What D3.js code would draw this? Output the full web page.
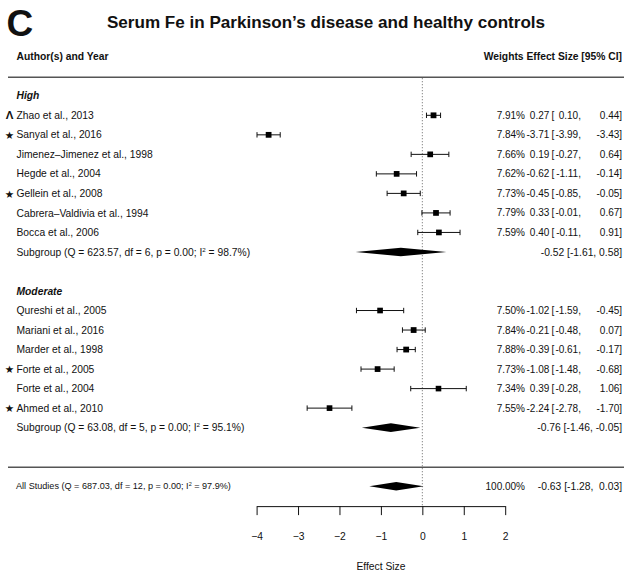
<!DOCTYPE html>
<html>
<head>
<meta charset="utf-8">
<script src="https://cdn.jsdelivr.net/npm/d3@7"></script>
<style>
  html, body { margin: 0; padding: 0; background: #fff; }
  svg { display: block; font-family: "Liberation Sans", Arial, Helvetica, sans-serif; }
  text { fill: #111; }
</style>
</head>
<body>
<svg id="chart" width="624" height="574"></svg>
<script>
// Study-level data: serum Fe, Parkinson's disease vs healthy controls
const studies = [
  "Zhao et al., 2013", "Sanyal et al., 2016", "Jimenez\u2013Jimenez et al., 1998",
  "Hegde et al., 2004", "Gellein et al., 2008", "Cabrera\u2013Valdivia et al., 1994",
  "Bocca et al., 2006",
  "Qureshi et al., 2005", "Mariani et al., 2016", "Marder et al., 1998",
  "Forte et al., 2005", "Forte et al., 2004", "Ahmed et al., 2010"
];
const groups   = ["High","High","High","High","High","High","High",
                  "Moderate","Moderate","Moderate","Moderate","Moderate","Moderate"];
const weights  = [7.91, 7.84, 7.66, 7.62, 7.73, 7.79, 7.59, 7.50, 7.84, 7.88, 7.73, 7.34, 7.55];
const effect   = [0.27, -3.71, 0.19, -0.62, -0.45, 0.33, 0.40, -1.02, -0.21, -0.39, -1.08, 0.39, -2.24];
const ciLower  = [0.10, -3.99, -0.27, -1.11, -0.85, -0.01, -0.11, -1.59, -0.48, -0.61, -1.48, -0.28, -2.78];
const ciUpper  = [0.44, -3.43, 0.64, -0.14, -0.05, 0.67, 0.91, -0.45, 0.07, -0.17, -0.68, 1.06, -1.70];
const flags    = ["\u039B", "\u2605", "", "", "\u2605", "", "", "", "", "", "\u2605", "", "\u2605"];

// Subgroup summaries
const subgroupNames = ["High", "Moderate"];
const subgroupQ     = ["623.57", "63.08"];
const subgroupDf    = [6, 5];
const subgroupP     = ["0.00", "0.00"];
const subgroupI2    = ["98.7", "95.1"];
const subgroupEst   = [-0.52, -0.76];
const subgroupLower = [-1.61, -1.46];
const subgroupUpper = [0.58, -0.05];

// Overall random-effects summary
const overallQ = "687.03", overallDf = 12, overallP = "0.00", overallI2 = "97.9";
const overallEst = -0.63, overallLower = -1.28, overallUpper = 0.03, overallWeight = "100.00%";

const axisTicks = [-4, -3, -2, -1, 0, 1, 2];

const svg = d3.select("#chart");
const W = 624;
const fs = 10.3;   // label font size
const fn = 10;     // numeric column font size
const f2 = v => v.toFixed(2);

// Row layout: header at -2, groups stacked with a blank row between, overall at the bottom
const rows = [];
let r = 0;
subgroupNames.forEach((g, gi) => {
  rows.push({type: "group", row: r++, label: g});
  studies.forEach((s, i) => {
    if (groups[i] === g) rows.push({type: "study", row: r++, i});
  });
  rows.push({type: "subgroup", row: r++, gi});
  r++; // blank row
});
const overallRow = r + 1;

const y = d3.scaleLinear().domain([0, 20]).range([95.8, 486.2]);
const x = d3.scaleLinear().domain([-4, 2]).range([256.6, 505.2]);

// Title and panel letter
svg.append("text").attr("x", 6.5).attr("y", 36).attr("font-size", 37)
  .attr("font-weight", "bold").text("C");
svg.append("text").attr("x", 326).attr("y", 28).attr("font-size", 17.1)
  .attr("font-weight", "bold").attr("text-anchor", "middle")
  .text("Serum Fe in Parkinson\u2019s disease and healthy controls");

// Column headers
svg.append("text").attr("x", 16.5).attr("y", y(-2)).attr("dy", "0.35em")
  .attr("font-size", fs).attr("font-weight", "bold").text("Author(s) and Year");
svg.append("text").attr("x", 622).attr("y", y(-2)).attr("dy", "0.35em")
  .attr("font-size", fs).attr("font-weight", "bold").attr("text-anchor", "end")
  .text("Weights Effect Size [95% CI]");

// Separator lines
[y(-0.95), y(19.03)].forEach(yy => {
  svg.append("line").attr("x1", 8).attr("x2", W).attr("y1", yy).attr("y2", yy)
    .attr("stroke", "#555").attr("stroke-width", 1.5);
});

// Reference line at zero
svg.append("line").attr("x1", x(0)).attr("x2", x(0))
  .attr("y1", y(-0.9)).attr("y2", y(21.0))
  .attr("stroke", "#666").attr("stroke-width", 1).attr("stroke-dasharray", "1,2");

const maxW = d3.max(weights);
const sq = d3.scaleSqrt().domain([0, maxW]).range([0, 5.8]);

// Estimate and interval, drawn as aligned columns
function ciText(yy, est, lo, hi) {
  const t = svg.append("g").attr("font-size", fn);
  const put = (xx, anchor, s) => t.append("text").attr("x", xx).attr("y", yy)
    .attr("dy", "0.35em").attr("text-anchor", anchor).text(s);
  put(549.3, "end", f2(est));
  put(551.6, "start", "[");
  put(578.2, "end", f2(lo));
  put(578.2, "start", ",");
  put(619.3, "end", f2(hi));
  put(619.3, "start", "]");
}

function statLabel(prefix, Q, df, p, I2, size) {
  const t = svg.append("text").attr("font-size", size);
  t.append("tspan").text(`${prefix} (Q = ${Q}, df = ${df}, p = ${p}; I`);
  t.append("tspan").attr("font-size", size * 0.6).attr("dy", -size * 0.38).text("2");
  t.append("tspan").attr("dy", size * 0.38).text(` = ${I2}%)`);
  return t;
}

function diamond(yy, est, lo, hi) {
  const h = 4.3;
  svg.append("path")
    .attr("d", `M${x(lo)},${yy} L${x(est)},${yy - h} L${x(hi)},${yy} L${x(est)},${yy + h} Z`)
    .attr("fill", "#000");
}

rows.forEach(d => {
  const yy = y(d.row);
  if (d.type === "group") {
    svg.append("text").attr("x", 16.5).attr("y", yy).attr("dy", "0.35em")
      .attr("font-size", fs).attr("font-weight", "bold").attr("font-style", "italic").text(d.label);
  } else if (d.type === "study") {
    const i = d.i;
    svg.append("text").attr("x", 16.5).attr("y", yy).attr("dy", "0.35em")
      .attr("font-size", fs).text(studies[i]);
    if (flags[i]) {
      const isStar = flags[i] === "\u2605";
      svg.append("text").attr("x", 9.5).attr("y", yy).attr("dy", isStar ? "0.4em" : "0.36em")
        .attr("text-anchor", "middle")
        .attr("font-family", isStar ? "DejaVu Sans, sans-serif" : "Liberation Sans, Arial, sans-serif")
        .attr("font-size", isStar ? 10.5 : 11.5).attr("font-weight", "bold").text(flags[i]);
    }
    // CI whisker with end caps
    const g = svg.append("g").attr("stroke", "#111").attr("stroke-width", 1);
    g.append("line").attr("x1", x(ciLower[i])).attr("x2", x(ciUpper[i])).attr("y1", yy).attr("y2", yy);
    [ciLower[i], ciUpper[i]].forEach(v => {
      g.append("line").attr("x1", x(v)).attr("x2", x(v)).attr("y1", yy - 2.7).attr("y2", yy + 2.7);
    });
    const s = sq(weights[i]);
    svg.append("rect").attr("x", x(effect[i]) - s / 2).attr("y", yy - s / 2)
      .attr("width", s).attr("height", s).attr("fill", "#000");
    svg.append("text").attr("x", 525).attr("y", yy).attr("dy", "0.35em")
      .attr("font-size", fn).attr("text-anchor", "end").text(weights[i].toFixed(2) + "%");
    ciText(yy, effect[i], ciLower[i], ciUpper[i]);
  } else if (d.type === "subgroup") {
    const gi = d.gi;
    statLabel("Subgroup", subgroupQ[gi], subgroupDf[gi], subgroupP[gi], subgroupI2[gi], fs)
      .attr("x", 16.5).attr("y", yy).attr("dy", "0.35em");
    diamond(yy, subgroupEst[gi], subgroupLower[gi], subgroupUpper[gi]);
    svg.append("text").attr("x", 622).attr("y", yy).attr("dy", "0.35em")
      .attr("font-size", fs).attr("text-anchor", "end")
      .text(`${f2(subgroupEst[gi])} [${f2(subgroupLower[gi])}, ${f2(subgroupUpper[gi])}]`);
  }
});

// Overall summary
{
  const yy = y(overallRow);
  statLabel("All Studies", overallQ, overallDf, overallP, overallI2, 9.1)
    .attr("x", 16).attr("y", yy).attr("dy", "0.35em");
  diamond(yy, overallEst, overallLower, overallUpper);
  svg.append("text").attr("x", 525).attr("y", yy).attr("dy", "0.35em")
    .attr("font-size", fn).attr("text-anchor", "end").text(overallWeight);
  svg.append("text").attr("x", 622).attr("y", yy).attr("dy", "0.35em")
    .attr("font-size", fs).attr("text-anchor", "end")
    .style("white-space", "pre")
    .text(`${f2(overallEst)} [${f2(overallLower)},  ${f2(overallUpper)}]`);
}

// Effect size axis
const axisY = y(21.02);
const axis = d3.axisBottom(x).tickValues(axisTicks).tickSize(9).tickSizeOuter(0).tickPadding(18)
  .tickFormat(d3.format("d"));
const ax = svg.append("g").attr("transform", `translate(0,${axisY})`).call(axis);
ax.select(".domain").attr("stroke", "#111").attr("stroke-width", 1);
ax.selectAll(".tick line").attr("stroke", "#111").attr("stroke-width", 1);
ax.selectAll(".tick text").attr("font-size", fs).attr("fill", "#111")
  .attr("font-family", "Liberation Sans, Arial, sans-serif");

svg.append("text").attr("x", x(-1)).attr("y", 570).attr("font-size", fs)
  .attr("text-anchor", "middle").text("Effect Size");
</script>
</body>
</html>
